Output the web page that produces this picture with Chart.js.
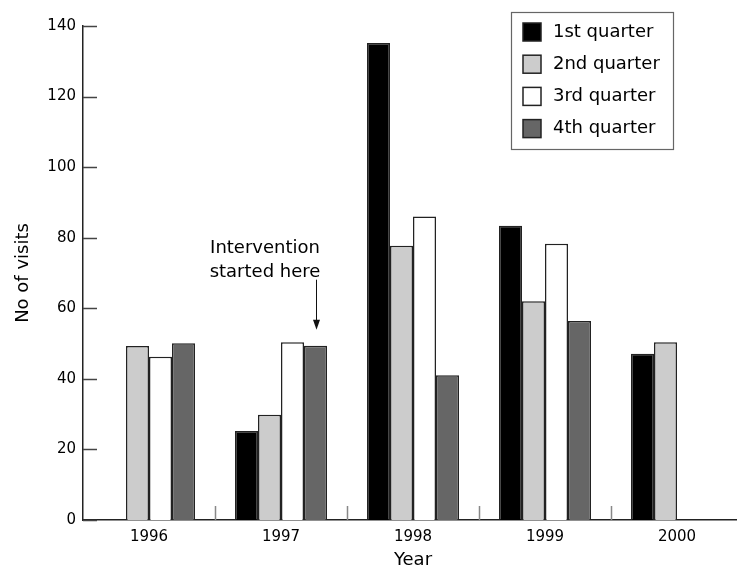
<!DOCTYPE html>
<html>
<head>
<meta charset="utf-8">
<script src="https://cdn.jsdelivr.net/npm/chart.js@4.4.0/dist/chart.umd.min.js"></script>
<style>
  html, body { margin: 0; padding: 0; background: #fff; overflow: hidden; }
  #wrap { width: 743px; height: 576px; }
</style>
</head>
<body>
<div id="wrap"><canvas id="chart" width="743" height="576"></canvas></div>
<script>
// data
const years = ['1996', '1997', '1998', '1999', '2000'];
const quarterNames = ['1st quarter', '2nd quarter', '3rd quarter', '4th quarter'];
const q1 = [null, 25.2, 135.2, 83.4, 47.1];
const q2 = [49.3, 29.8, 77.7, 62.0, 50.4];
const q3 = [46.3, 50.4, 86.0, 78.3, null];
const q4 = [50.1, 49.4, 41.0, 56.4, null];
const yTicks = [0, 20, 40, 60, 80, 100, 120, 140];
const noteLines = ['Intervention', 'started here'];

const fills = ['#000000', '#cccccc', '#ffffff', '#666666'];
const FONT = 'DejaVu Sans';
const INK = '#000000';

// tick marks drawn on the inner side of both axes
const innerTicks = {
    id: 'innerTicks',
    afterDatasetsDraw(chart) {
        const { ctx, scales: { x, y }, chartArea } = chart;
        ctx.save();
        ctx.lineWidth = 1.5;
        ctx.strokeStyle = '#444';
        ctx.beginPath();
        yTicks.forEach(v => {
            const py = Math.round(y.getPixelForValue(v)) + 0.5;
            ctx.moveTo(chartArea.left, py);
            ctx.lineTo(chartArea.left + 14, py);
        });
        ctx.stroke();
        ctx.strokeStyle = '#888';
        ctx.beginPath();
        for (let i = 1; i <= years.length; i++) {
            const px = i < years.length
                ? (x.getPixelForValue(i - 1) + x.getPixelForValue(i)) / 2
                : chartArea.right;
            ctx.moveTo(Math.round(px) + 0.5, chartArea.bottom);
            ctx.lineTo(Math.round(px) + 0.5, chartArea.bottom - 14);
        }
        ctx.stroke();
        ctx.restore();
    }
};

// boxed legend in the top-right corner
const boxLegend = {
    id: 'boxLegend',
    afterDraw(chart) {
        const { ctx } = chart;
        const bx = 511, by = 12, bw = 162, bh = 137;
        ctx.save();
        ctx.strokeStyle = '#666';
        ctx.lineWidth = 1.2;
        ctx.strokeRect(bx + 0.5, by + 0.5, bw, bh);
        chart.data.datasets.forEach((ds, i) => {
            const cy = 32 + i * 32.2;
            ctx.fillStyle = ds.backgroundColor;
            ctx.fillRect(523, cy - 9, 18, 18);
            ctx.strokeStyle = '#222';
            ctx.lineWidth = 1.5;
            ctx.strokeRect(523, cy - 9, 18, 18);
            ctx.fillStyle = INK;
            ctx.font = '18px "' + FONT + '"';
            ctx.textBaseline = 'middle';
            ctx.textAlign = 'left';
            ctx.fillText(ds.label, 553, cy);
        });
        ctx.restore();
    }
};

// "Intervention started here" note with arrow onto the 1997 4th quarter bar
const noteArrow = {
    id: 'noteArrow',
    afterDraw(chart) {
        const { ctx } = chart;
        const bar = chart.getDatasetMeta(3).data[1];
        const ax = Math.round(bar.x) + 0.5;
        const tip = bar.y - 16;
        ctx.save();
        ctx.strokeStyle = '#111';
        ctx.fillStyle = '#111';
        ctx.lineWidth = 1;
        ctx.beginPath();
        ctx.moveTo(ax, tip - 50);
        ctx.lineTo(ax, tip - 8);
        ctx.stroke();
        ctx.beginPath();
        ctx.moveTo(ax - 3.5, tip - 10);
        ctx.lineTo(ax + 3.5, tip - 10);
        ctx.lineTo(ax, tip);
        ctx.closePath();
        ctx.fill();
        ctx.font = '18px "' + FONT + '"';
        ctx.textAlign = 'center';
        ctx.textBaseline = 'alphabetic';
        ctx.fillStyle = INK;
        noteLines.forEach((t, i) => {
            ctx.fillText(t, bar.x - 50.5, bar.y - 92.5 + i * 24);
        });
        ctx.restore();
    }
};

const datasets = [q1, q2, q3, q4].map((vals, i) => ({
    label: quarterNames[i],
    data: vals,
    backgroundColor: fills[i],
    borderColor: '#222',
    borderWidth: 1.5,
    borderSkipped: 'bottom',
    categoryPercentage: 0.697,
    barPercentage: 1.0
}));

new Chart(document.getElementById('chart'), {
    type: 'bar',
    data: { labels: years, datasets: datasets },
    options: {
        responsive: false,
        animation: false,
        devicePixelRatio: 1,
        layout: { padding: { top: 26, right: 0, left: 0, bottom: 0 } },
        plugins: {
            legend: { display: false },
            tooltip: { enabled: false }
        },
        scales: {
            x: {
                grid: { display: false, drawTicks: false },
                border: { display: true, color: '#222', width: 1.5 },
                ticks: { color: INK, font: { family: FONT, size: 15 }, padding: 8 },
                title: {
                    display: true, text: 'Year', color: INK,
                    font: { family: FONT, size: 18 }, padding: { top: 0, bottom: 5 }
                },
                afterFit: s => { s.height = 56; }
            },
            y: {
                min: 0,
                max: 140,
                grid: { display: false, drawTicks: false },
                border: { display: true, color: '#222', width: 1.5 },
                ticks: { stepSize: 20, color: INK, font: { family: FONT, size: 15 }, padding: 7 },
                title: {
                    display: true, text: 'No of visits', color: INK,
                    font: { family: FONT, size: 18 }, padding: { top: 13, bottom: 0 }
                },
                afterFit: s => { s.width = 83; }
            }
        }
    },
    plugins: [innerTicks, boxLegend, noteArrow]
});
</script>
</body>
</html>
